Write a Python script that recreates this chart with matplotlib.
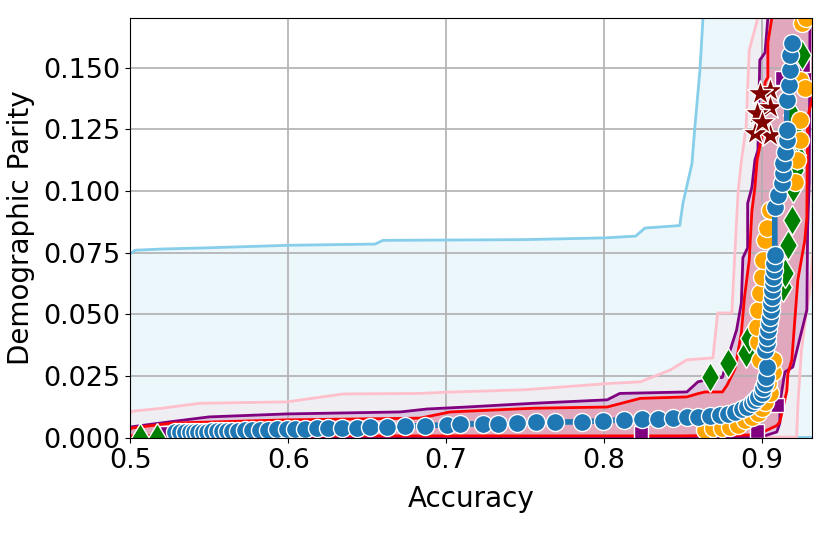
import numpy as np
import matplotlib
matplotlib.use('Agg')
import matplotlib.pyplot as plt

# ---- band traces (upper-left edge and lower-right edge of each region) ----
sky_up_x = [0.5, 0.503, 0.52, 0.55, 0.6, 0.655, 0.66, 0.75, 0.80, 0.82, 0.826, 0.848, 0.850, 0.8557, 0.8576, 0.8608, 0.8627, 0.866]
sky_up_y = [0.0745, 0.076, 0.0765, 0.077, 0.078, 0.0785, 0.080, 0.0803, 0.081, 0.0817, 0.085, 0.086, 0.095, 0.111, 0.126, 0.149, 0.170, 0.2]
sky_lo_x = [0.49, 0.925, 0.95, 0.95]
sky_lo_y = [0.0005, 0.0005, 0.0005, 0.2]

pink_up_x = [0.5, 0.501, 0.52, 0.544, 0.5994, 0.635, 0.6835, 0.7, 0.75, 0.802, 0.823, 0.842, 0.8525, 0.869, 0.872,
             0.881, 0.883, 0.885, 0.887, 0.890, 0.892, 0.897, 0.899]
pink_up_y = [0.0100, 0.0108, 0.0120, 0.0140, 0.0146, 0.0178, 0.0180, 0.0185, 0.0195, 0.0220, 0.0227, 0.0275, 0.0316,
             0.0324, 0.0506, 0.0506, 0.076, 0.100, 0.112, 0.126, 0.157, 0.169, 0.2]
pink_lo_x = [0.49, 0.922, 0.923, 0.925, 0.927, 0.93, 0.95]
pink_lo_y = [0.0003, 0.0003, 0.015, 0.035, 0.045, 0.058, 0.2]

purple_up_x = [0.5, 0.501, 0.525, 0.55, 0.599, 0.671, 0.688, 0.713, 0.755, 0.802, 0.81, 0.8525, 0.8595, 0.870, 0.875,
               0.878, 0.884, 0.887, 0.888, 0.891, 0.891, 0.8937, 0.8956, 0.8975, 0.8987, 0.902, 0.9038, 0.905]
purple_up_y = [0.0043, 0.0045, 0.0065, 0.0085, 0.0097, 0.0105, 0.0117, 0.0125, 0.014, 0.0154, 0.018, 0.0186, 0.0227,
               0.0243, 0.0245, 0.0316, 0.0437, 0.0546, 0.073, 0.077, 0.095, 0.1015, 0.1125, 0.1165, 0.153, 0.156, 0.17, 0.2]
purple_lo_x = [0.49, 0.8987, 0.9095, 0.9114, 0.9114, 0.9146, 0.9196, 0.9285, 0.929, 0.930, 0.9305, 0.931]
purple_lo_y = [0.0002, 0.0002, 0.0024, 0.006, 0.014, 0.0267, 0.0287, 0.0518, 0.085, 0.103, 0.17, 0.2]

red_up_x = [0.5, 0.501, 0.527, 0.5994, 0.6835, 0.7025, 0.755, 0.802, 0.823, 0.8525, 0.86, 0.864, 0.875, 0.878, 0.883,
            0.887, 0.889, 0.892, 0.8937, 0.8956, 0.897, 0.900, 0.902, 0.9038, 0.9038, 0.9063, 0.907]
red_up_y = [0.0035, 0.004, 0.006, 0.0073, 0.008, 0.0105, 0.012, 0.0125, 0.016, 0.0166, 0.018, 0.0186, 0.0186, 0.0214,
            0.028, 0.0425, 0.057, 0.072, 0.092, 0.1015, 0.1125, 0.122, 0.144, 0.146, 0.160, 0.170, 0.2]
red_lo_x = [0.49, 0.848, 0.8968, 0.9095, 0.9114, 0.9158, 0.9165, 0.919, 0.9228, 0.9272, 0.9285, 0.929, 0.933, 0.95]
red_lo_y = [0.0008, 0.0008, 0.0012, 0.005, 0.0065, 0.019, 0.026, 0.0316, 0.064, 0.080, 0.0894, 0.130, 0.14, 0.2]

# ---- marker series ----
blue_x = [0.5285, 0.5316, 0.5348, 0.5380, 0.5405, 0.5430, 0.5462, 0.5487, 0.5519, 0.5551, 0.5582, 0.5614, 0.5646,
          0.5684, 0.5728, 0.5772, 0.5823, 0.5873, 0.5930, 0.5994, 0.6044, 0.6108, 0.6184, 0.6253, 0.6342, 0.6437,
          0.6519, 0.6627, 0.6741, 0.6867, 0.7006, 0.7089, 0.7234, 0.7329, 0.7449, 0.7570, 0.7690, 0.7861, 0.7994,
          0.8127, 0.8241, 0.8342, 0.8437, 0.8525, 0.8595, 0.8671, 0.8734, 0.8785, 0.8829, 0.8873, 0.8905, 0.8937,
          0.8956, 0.8975, 0.9000, 0.9006, 0.9019, 0.9025, 0.9032, 0.9019, 0.9032, 0.9032, 0.9038, 0.9044, 0.9051,
          0.9057, 0.9057, 0.9063, 0.9063, 0.9070, 0.9070, 0.9076, 0.9076, 0.9082, 0.9082, 0.9101, 0.9127, 0.9133,
          0.9133, 0.9146, 0.9158, 0.9158, 0.9158, 0.9171, 0.9177, 0.9177, 0.9190]
blue_y = [0.0022, 0.0022, 0.0023, 0.0023, 0.0024, 0.0024, 0.0025, 0.0025, 0.0026, 0.0026, 0.0027, 0.0028, 0.0028,
          0.0029, 0.0030, 0.0031, 0.0032, 0.0033, 0.0034, 0.0035, 0.0036, 0.0037, 0.0038, 0.0039, 0.0040, 0.0042,
          0.0043, 0.0045, 0.0049, 0.0049, 0.0053, 0.0058, 0.0055, 0.0058, 0.0060, 0.0063, 0.0064, 0.0065, 0.0070,
          0.0072, 0.0075, 0.0077, 0.0082, 0.0083, 0.0085, 0.0088, 0.0092, 0.0097, 0.0105, 0.0115, 0.0127, 0.0142,
          0.0154, 0.0166, 0.0182, 0.0202, 0.0222, 0.0247, 0.0287, 0.0356, 0.0384, 0.0409, 0.0437, 0.0465, 0.0489,
          0.0518, 0.0546, 0.0570, 0.0599, 0.0627, 0.0651, 0.0680, 0.0708, 0.0740, 0.0934, 0.0983, 0.1032, 0.1072,
          0.1112, 0.1157, 0.1206, 0.1246, 0.1367, 0.1428, 0.1489, 0.1549, 0.1598]

orange_x = [0.8639, 0.8690, 0.8747, 0.8797, 0.8848, 0.8892, 0.8937, 0.8975, 0.9000, 0.9019, 0.9051, 0.9038, 0.9070,
            0.9070, 0.8987, 0.8975, 0.8968, 0.8975, 0.8987, 0.9000, 0.9006, 0.9019, 0.9032, 0.9051, 0.9209, 0.9222,
            0.9241, 0.9241, 0.9241, 0.9272, 0.9253, 0.9278]
orange_y = [0.0032, 0.0040, 0.0040, 0.0045, 0.0053, 0.0073, 0.0085, 0.0101, 0.0121, 0.0146, 0.0182, 0.0222, 0.0267,
            0.0316, 0.0316, 0.0388, 0.0449, 0.0518, 0.0587, 0.0651, 0.0720, 0.0801, 0.0850, 0.0922, 0.1036, 0.1125,
            0.1206, 0.1286, 0.1448, 0.1416, 0.1679, 0.1699]

green_x = [0.5063, 0.5171, 0.8671, 0.8785, 0.8899, 0.8918, 0.9133, 0.9146, 0.9165, 0.9190, 0.9196, 0.9209, 0.9222,
           0.9222, 0.9190, 0.9253]
green_y = [0.0, 0.0, 0.0247, 0.0303, 0.0344, 0.0405, 0.0611, 0.0667, 0.0781, 0.0882, 0.1011, 0.1084, 0.1145, 0.1218,
           0.1307, 0.1549]

square_x = [0.5234, 0.8234, 0.8968, 0.9095, 0.9127, 0.9259]
square_y = [0.0020, 0.0020, 0.0028, 0.0133, 0.1456, 0.1510]

star_x = [0.9051, 0.9051, 0.9051, 0.8987, 0.8968, 0.8956, 0.9000]
star_y = [0.1408, 0.1339, 0.1226, 0.1396, 0.1315, 0.1234, 0.1278]

fig, ax = plt.subplots(figsize=(8.3, 5.34), dpi=100)
fig.subplots_adjust(left=0.157, right=0.978, top=0.966, bottom=0.180)

bands = [
    (sky_up_x, sky_up_y, sky_lo_x, sky_lo_y, 'skyblue'),
    (pink_up_x, pink_up_y, pink_lo_x, pink_lo_y, 'pink'),
    (purple_up_x, purple_up_y, purple_lo_x, purple_lo_y, 'purple'),
    (red_up_x, red_up_y, red_lo_x, red_lo_y, 'red'),
]
for ux, uy, lx, ly, c in bands:
    px = np.concatenate([ux, lx[::-1]])
    py = np.concatenate([uy, ly[::-1]])
    ax.fill(px, py, color=c, alpha=0.16, lw=0)
    ax.plot(ux, uy, color=c, lw=2)
    ax.plot(lx, ly, color=c, lw=2)

ax.plot(square_x, square_y, 's', color='purple', ms=10, mec='white', mew=1)
ax.plot(star_x, star_y, '*', color='#800000', ms=19, mec='white', mew=1)
ax.plot(green_x, green_y, 'd', color='green', ms=15, mec='white', mew=1)
ax.plot(orange_x, orange_y, 'o', color='orange', ms=13, mec='white', mew=1)
ax.plot(blue_x, blue_y, '-o', color='tab:blue', lw=4, ms=13, mec='white', mew=1)

ax.set_xlim(0.5, 0.9316)
ax.set_ylim(0, 0.17)
ax.set_xticks([0.5, 0.6, 0.7, 0.8, 0.9])
ax.set_yticks([0.0, 0.025, 0.05, 0.075, 0.1, 0.125, 0.15])
ax.set_yticklabels(['0.000', '0.025', '0.050', '0.075', '0.100', '0.125', '0.150'])
ax.tick_params(labelsize=19.5)
ax.grid(True, color='#b0b0b0', lw=1.2)
ax.set_xlabel('Accuracy', fontsize=20, labelpad=8)
ax.set_ylabel('Demographic Parity', fontsize=20, labelpad=6)

plt.savefig('out.png', dpi=100)
